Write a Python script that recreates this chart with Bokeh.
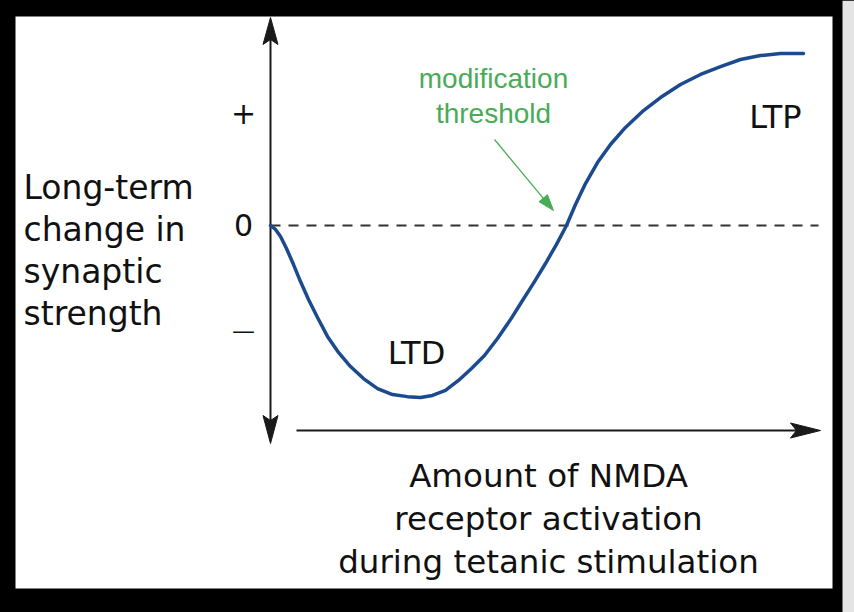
from bokeh.plotting import figure
from bokeh.models import ColumnDataSource
from bokeh.core.properties import value
from bokeh.embed import file_html
from bokeh.resources import INLINE

# ---- data (x: activation, 0..10; y: change, -1..+1) ----
activation = [0.000, 0.094, 0.188, 0.300, 0.432, 0.563, 0.713, 0.882, 1.069, 1.276,
              1.501, 1.745, 2.008, 2.289, 2.570, 2.814, 3.039, 3.283, 3.527, 3.771,
              4.015, 4.259, 4.503, 4.728, 4.953, 5.159, 5.366, 5.553, 5.722, 5.910,
              6.135, 6.379, 6.660, 6.979, 7.317, 7.692, 8.068, 8.443, 8.818, 9.193,
              9.568, 10.000]
change = [0.000, -0.023, -0.064, -0.134, -0.227, -0.326, -0.430, -0.535, -0.645, -0.738,
          -0.820, -0.890, -0.948, -0.983, -0.995, -1.000, -0.988, -0.959, -0.901, -0.831,
          -0.756, -0.657, -0.547, -0.436, -0.326, -0.221, -0.110, 0.000, 0.122, 0.244,
          0.366, 0.471, 0.570, 0.663, 0.744, 0.820, 0.878, 0.924, 0.965, 0.988,
          1.000, 1.000]
y_tick_values = [0.65, 0.0, -0.62]
y_tick_labels = ["+", "0", "\u2014"]
y_title_lines = ["Long-term", "change in", "synaptic", "strength"]
x_title_lines = ["Amount of NMDA", "receptor activation", "during tetanic stimulation"]
region_labels = ["LTD", "LTP"]
threshold_label = ["modification", "threshold"]
threshold_x = 5.553

# ---- pixel <-> data mapping (layout) ----
W, H = 854, 612
X0_PX, PX_PER_X = 270.0, 53.3
Y0_PX, PX_PER_Y = 225.0, 172.0
TXT_SHIFT = 10  # px upward correction for alphabetic baseline


def X(px):
    return (px - X0_PX) / PX_PER_X


def Y(py):
    return (Y0_PX - py) / PX_PER_Y


p = figure(width=W, height=H, output_backend="svg", toolbar_location=None,
           x_range=(X(0), X(W)), y_range=(Y(H), Y(0)),
           x_axis_type=None, y_axis_type=None, min_border=0,
           background_fill_color="black", border_fill_color="black",
           outline_line_color=None)
p.grid.visible = False

# frame: white panel inside black border, grey strip on the right
p.quad(left=[X(15)], right=[X(832)], top=[Y(16)], bottom=[Y(588)],
       fill_color="white", line_color=None)
p.quad(left=[X(842)], right=[X(W)], top=[Y(0)], bottom=[Y(H)],
       fill_color="#e4e4e4", line_color=None)


def head(tx, ty, dx, dy, L, Wd, notch):
    bx, by = tx - L * dx, ty - L * dy
    nx, ny = -dy, dx
    pts = [(tx, ty), (bx + Wd / 2 * nx, by + Wd / 2 * ny),
           (tx - (L - notch) * dx, ty - (L - notch) * dy),
           (bx - Wd / 2 * nx, by - Wd / 2 * ny)]
    return [X(a) for a, b in pts], [Y(b) for a, b in pts]


axis_col = "#1a1a1a"
# y axis with arrows both ways
p.segment(x0=[0], y0=[Y(30)], x1=[0], y1=[Y(430)], line_color=axis_col, line_width=2)
hx1, hy1 = head(270, 17, 0, -1, 27, 15, 5)
hx2, hy2 = head(270, 443, 0, 1, 28, 15, 5)
# x axis arrow
p.segment(x0=[X(296)], y0=[Y(430)], x1=[X(808)], y1=[Y(430)], line_color=axis_col, line_width=2)
hx3, hy3 = head(820, 430, 1, 0, 30, 15, 6)
p.patches(xs=[hx1, hx2, hx3], ys=[hy1, hy2, hy3], fill_color=axis_col, line_color=axis_col,
          line_width=1)

# dashed zero line
p.line(x=[0, X(818)], y=[0, 0], line_color="#333333", line_width=2, line_dash="10 8")

# curve
src = ColumnDataSource(dict(x=activation, y=change))
p.line("x", "y", source=src, line_color="#1c4a8e", line_width=3.5,
       line_join="round", line_cap="round")

big = value("DejaVu Sans")

# y tick labels
tick_dy = [1, 1, 1]
tick_sizes = ["30px", "30px", "23px"]
for v, lab, d, s in zip(y_tick_values, y_tick_labels, tick_dy, tick_sizes):
    p.text(x=[X(243)], y=[v + d / PX_PER_Y], text=[lab], text_font=big, text_font_size=s,
           text_align="center", text_baseline="middle", text_color="#111111")

# y title
p.text(x=[X(23)] * 4, y=[Y(197 - TXT_SHIFT + 42 * i) for i in range(4)], text=y_title_lines,
       text_font=big, text_font_size="33px", text_align="left",
       text_baseline="alphabetic", text_color="#111111")

# x title
p.text(x=[X(548)] * 3, y=[Y(485 - TXT_SHIFT + 43 * i) for i in range(3)], text=x_title_lines,
       text_font=big, text_font_size="32.5px", text_align="center",
       text_baseline="alphabetic", text_color="#111111")

# region labels
p.text(x=[X(416), X(775)], y=[Y(362 - TXT_SHIFT), Y(126 - TXT_SHIFT)], text=region_labels,
       text_font=big, text_font_size="32px", text_align="center", text_baseline="alphabetic",
       text_color="#111111")

# threshold annotation
green = "#4aab57"
p.text(x=[X(493)] * 2, y=[Y(88 - TXT_SHIFT), Y(123 - TXT_SHIFT)], text=threshold_label,
       text_font=value("Liberation Sans"), text_font_size="28px", text_align="center",
       text_baseline="alphabetic", text_color=green)
tpx, tpy = X0_PX + threshold_x * PX_PER_X - 13, Y0_PX - 15
dx, dy = tpx - 494, tpy - 139
n = (dx * dx + dy * dy) ** 0.5
ux, uy = dx / n, dy / n
p.segment(x0=[X(494)], y0=[Y(139)], x1=[X(tpx - 10 * ux)], y1=[Y(tpy - 10 * uy)],
          line_color=green, line_width=1.3)
gx, gy = head(tpx, tpy, ux, uy, 16, 11, 0)
p.patch(x=gx, y=gy, fill_color=green, line_color=green)

template = """{% block postamble %}<style>html, body { margin: 0 !important; padding: 0 !important; background: #000 !important; overflow: hidden; }</style>{% endblock %}"""

open("out.html", "w").write(file_html(p, INLINE, template=template))
